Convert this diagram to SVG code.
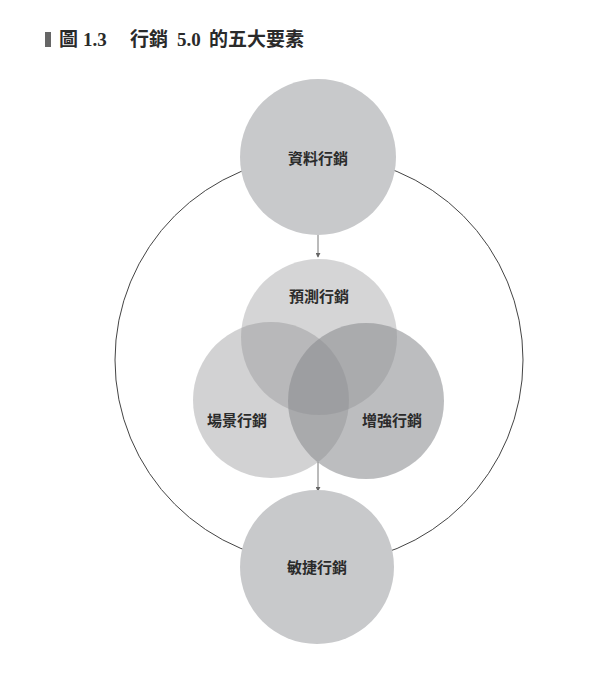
<svg xmlns="http://www.w3.org/2000/svg" width="600" height="675" viewBox="0 0 600 675">
<style>
.title{font-family:"Liberation Serif","Noto Sans CJK TC",serif;font-weight:bold;font-size:19px;fill:#2a2a2a}
.lbl{font-family:"Noto Sans CJK TC","Noto Sans CJK SC",sans-serif;font-weight:bold;font-size:15px;fill:#2b2b2b;text-anchor:middle;dominant-baseline:central}
.big{fill:#c8c9cb}
.v{fill:#8a8b8e}
.conn{stroke:#777;stroke-width:1;fill:none}
</style>
<defs>
<marker id="ah" viewBox="0 0 6 6" refX="5" refY="3" markerWidth="5" markerHeight="5" orient="auto">
<path d="M0,0 L6,3 L0,6 Z" fill="#666"/>
</marker>
</defs>
<rect width="600" height="675" fill="#ffffff"/>
<g id="title">
<rect x="45" y="32" width="6" height="15" fill="#666"/>
<text class="title" y="46"><tspan x="59">圖</tspan><tspan x="83">1.3</tspan><tspan x="130">行銷</tspan><tspan x="177">5.0</tspan><tspan x="209">的五大要素</tspan></text>
</g>
<g id="connectors">
<circle cx="319" cy="360" r="204" fill="none" stroke="#444" stroke-width="1"/>
<line class="conn" x1="318" y1="235" x2="318" y2="257" marker-end="url(#ah)"/>
<line class="conn" x1="318" y1="462" x2="318" y2="491" marker-end="url(#ah)"/>
</g>
<g id="node-data">
<circle class="big" cx="318" cy="157" r="78"/>
<text class="lbl" x="318" y="157">資料行銷</text>
</g>
<g id="node-agile">
<circle class="big" cx="317" cy="567" r="77"/>
<text class="lbl" x="317" y="566">敏捷行銷</text>
</g>
<g id="venn">
<g id="node-predict">
<circle class="v" cx="319" cy="337" r="78" fill-opacity="0.36"/>
</g>
<g id="node-context">
<circle class="v" cx="271" cy="400" r="78" fill-opacity="0.39"/>
</g>
<g id="node-augmented">
<circle class="v" cx="366" cy="401" r="78" fill-opacity="0.57"/>
</g>
<text class="lbl" x="319" y="295">預測行銷</text>
<text class="lbl" x="237" y="419">場景行銷</text>
<text class="lbl" x="392" y="419">增強行銷</text>
</g>
</svg>
